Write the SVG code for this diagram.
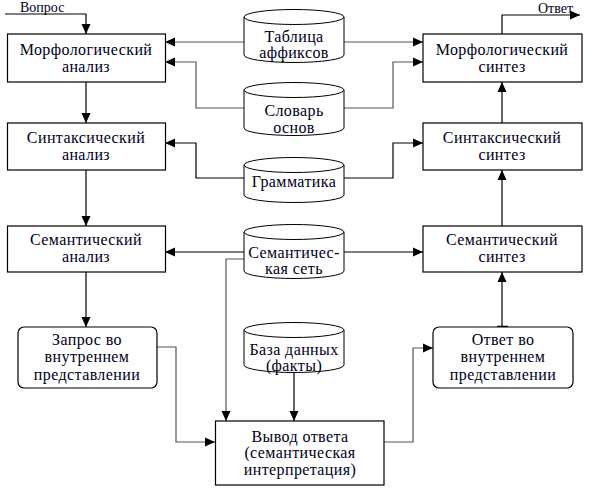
<svg xmlns="http://www.w3.org/2000/svg" width="592" height="496" viewBox="0 0 592 496">
<style>
.box{fill:#fff;stroke:#000;stroke-width:1.2}
.cyl{fill:#fff;stroke:#000;stroke-width:1}
.t{font-family:'Liberation Serif','DejaVu Serif',serif;font-size:16px;letter-spacing:0.4px;fill:#000018;text-anchor:middle}
.s{font-family:'Liberation Serif','DejaVu Serif',serif;font-size:14px;fill:#000018}
.c{fill:none;stroke:#000;stroke-width:1.2}
.g{fill:none;stroke:#555;stroke-width:1.2}
</style>
<defs>
<marker id="ah" markerUnits="userSpaceOnUse" markerWidth="11" markerHeight="10" refX="10" refY="5" orient="auto">
<path d="M0,0.5 L10,5 L0,9.5 z" fill="#000"/>
</marker>
</defs>
<rect width="592" height="496" fill="#fff"/>
<g id="connectors">
<path class="c" d="M5,14 H86 V34" marker-end="url(#ah)"/>
<path class="c" d="M86,82 V123" marker-end="url(#ah)"/>
<path class="c" d="M86,170 V226" marker-end="url(#ah)"/>
<path class="c" d="M86,272 V327" marker-end="url(#ah)"/>
<path class="g" d="M157,347 H176 V442 H215" marker-end="url(#ah)"/>
<path class="g" d="M384,442 H413 V348 H433" marker-end="url(#ah)"/>
<path class="c" d="M502,327 V272" marker-end="url(#ah)"/>
<path d="M497,327 H508" stroke="#000" stroke-width="2.5"/>
<path class="c" d="M502,226 V170" marker-end="url(#ah)"/>
<path class="c" d="M502,123 V82" marker-end="url(#ah)"/>
<path class="c" d="M502,34 V15 H580" marker-end="url(#ah)"/>
<path class="g" d="M244,42 H165" marker-end="url(#ah)"/>
<path class="g" d="M344,42 H423" marker-end="url(#ah)"/>
<path class="g" d="M244,108 H196 V62 H165" marker-end="url(#ah)"/>
<path class="g" d="M344,108 H393 V62 H423" marker-end="url(#ah)"/>
<path class="c" d="M244,178 H196 V143 H165" marker-end="url(#ah)"/>
<path class="c" d="M344,178 H393 V143 H423" marker-end="url(#ah)"/>
<path class="c" d="M244,252 H165" marker-end="url(#ah)"/>
<path class="c" d="M344,252 H423" marker-end="url(#ah)"/>
<path class="g" d="M244,259 H226 V421" marker-end="url(#ah)"/>
<path class="c" d="M294,372 V421" marker-end="url(#ah)"/>
</g>
<text class="s" x="20" y="12">Вопрос</text>
<text class="s" x="538" y="13">Ответ</text>
<g id="morph-analysis">
<rect class="box" x="7.5" y="34" width="158" height="48"/>
<text class="t" x="86" y="55">Морфологический</text>
<text class="t" x="86" y="72">анализ</text>
</g>
<g id="synt-analysis">
<rect class="box" x="7.5" y="123" width="158" height="47"/>
<text class="t" x="86" y="143">Синтаксический</text>
<text class="t" x="86" y="160">анализ</text>
</g>
<g id="sem-analysis">
<rect class="box" x="7.5" y="226" width="158" height="46"/>
<text class="t" x="86" y="245">Семантический</text>
<text class="t" x="86" y="262">анализ</text>
</g>
<g id="query">
<rect class="box" x="18" y="327" width="139" height="61" rx="6"/>
<text class="t" x="87" y="345">Запрос во</text>
<text class="t" x="87" y="362">внутреннем</text>
<text class="t" x="87" y="380">представлении</text>
</g>
<g id="morph-synth">
<rect class="box" x="423" y="34" width="159" height="48"/>
<text class="t" x="502" y="55">Морфологический</text>
<text class="t" x="502" y="72">синтез</text>
</g>
<g id="synt-synth">
<rect class="box" x="423" y="123" width="159" height="47"/>
<text class="t" x="502" y="143">Синтаксический</text>
<text class="t" x="502" y="160">синтез</text>
</g>
<g id="sem-synth">
<rect class="box" x="423" y="226" width="159" height="46"/>
<text class="t" x="502" y="245">Семантический</text>
<text class="t" x="502" y="262">синтез</text>
</g>
<g id="answer">
<rect class="box" x="433" y="327" width="140" height="61" rx="6"/>
<text class="t" x="503" y="345">Ответ во</text>
<text class="t" x="503" y="362">внутреннем</text>
<text class="t" x="503" y="380">представлении</text>
</g>
<g id="inference">
<rect class="box" x="215.5" y="421" width="168.5" height="64"/>
<text class="t" x="300" y="442">Вывод ответа</text>
<text class="t" x="300" y="458">(семантическая</text>
<text class="t" x="300" y="475">интерпретация)</text>
</g>
<g id="affix-table">
<path class="cyl" d="M244,17 V55 A50,7.5 0 0 0 344,55 V17 A50,7.5 0 0 0 244,17 A50,7.5 0 0 0 344,17"/>
<text class="t" x="294" y="42">Таблица</text>
<text class="t" x="294" y="58">аффиксов</text>
</g>
<g id="stem-dict">
<path class="cyl" d="M244,90 V128 A50,7.5 0 0 0 344,128 V90 A50,7.5 0 0 0 244,90 A50,7.5 0 0 0 344,90"/>
<text class="t" x="294" y="116">Словарь</text>
<text class="t" x="294" y="133">основ</text>
</g>
<g id="grammar">
<path class="cyl" d="M244,165 V195 A50,7.5 0 0 0 344,195 V165 A50,7.5 0 0 0 244,165 A50,7.5 0 0 0 344,165"/>
<text class="t" x="294" y="187">Грамматика</text>
</g>
<g id="sem-net">
<path class="cyl" d="M244,232 V271 A50,7.5 0 0 0 344,271 V232 A50,7.5 0 0 0 244,232 A50,7.5 0 0 0 344,232"/>
<text class="t" x="294" y="258">Семантичес-</text>
<text class="t" x="294" y="274">кая сеть</text>
</g>
<g id="database">
<path class="cyl" d="M244,330 V365 A50,7.5 0 0 0 344,365 V330 A50,7.5 0 0 0 244,330 A50,7.5 0 0 0 344,330"/>
<text class="t" x="294" y="355">База данных</text>
<text class="t" x="294" y="371">(факты)</text>
</g>
</svg>
